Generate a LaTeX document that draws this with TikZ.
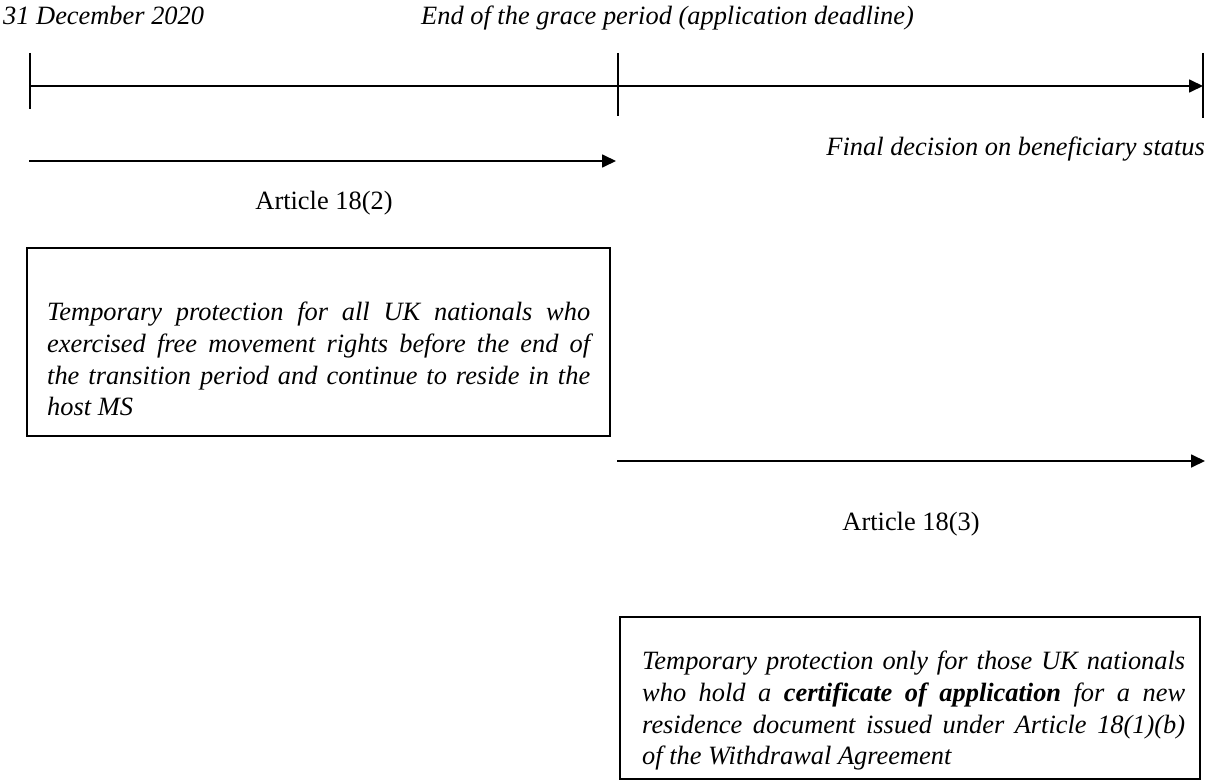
\documentclass[tikz,border=0pt]{standalone}
\usepackage{fontspec}
\setmainfont{Liberation Serif}
\usetikzlibrary{arrows.meta}
\begin{document}
\begin{tikzpicture}[x=1pt,y=-1pt,
  lbl/.style={inner sep=0pt,font=\fontsize{26.4}{31.7}\selectfont},
  ilbl/.style={lbl,font=\fontsize{26.4}{31.7}\selectfont\itshape},
  arr/.style={line width=1.7pt,-{Triangle[length=14pt,width=13pt]}},
  tick/.style={line width=1.7pt},
  frame/.style={draw,line width=1.4pt},
  boxtext/.style={inner sep=0pt,anchor=north west,text width=543pt,align=justify,font=\fontsize{26.4}{31.7}\selectfont\itshape}]
\useasboundingbox (0,0) rectangle (1207,781);
% timeline
\coordinate (t0) at (30,86);
\coordinate (t1) at (618,86);
\coordinate (t2) at (1203,86);
\coordinate (t0a) at (30,53);  \coordinate (t0b) at (30,109);
\coordinate (t1a) at (618,53); \coordinate (t1b) at (618,116);
\coordinate (t2a) at (1203,53); \coordinate (t2b) at (1203,118);
\draw[tick] (t0a) -- (t0b);
\draw[tick] (t1a) -- (t1b);
\draw[tick] (t2a) -- (t2b);
\draw[arr] (t0) -- (t2);
\node[ilbl,anchor=base west] (d1) at (3,25) {31 December 2020};
\node[ilbl,anchor=base west] (d2) at (421,25) {End of the grace period (application deadline)};
\node[ilbl,anchor=base east] (fd) at (1205,155) {Final decision on beneficiary status};
% Article 18(2)
\coordinate (a2s) at (29,161);
\coordinate (a2e) at (616,161);
\draw[arr] (a2s) -- (a2e);
\node[lbl,anchor=base] (l2) at (324,209) {Article 18(2)};
\draw[frame] (27,248) rectangle (610,436);
\node[boxtext] (b1) at (47,302) {Temporary protection for all UK nationals who\linebreak exercised free movement rights before the end of\linebreak the transition period and continue to reside in the\linebreak host MS};
% Article 18(3)
\coordinate (a3s) at (617,461);
\coordinate (a3e) at (1205,461);
\draw[arr] (a3s) -- (a3e);
\node[lbl,anchor=base] (l3) at (911,530) {Article 18(3)};
\draw[frame] (620,617) rectangle (1200,779);
\node[boxtext] (b2) at (642,651) {Temporary protection only for those UK nationals\linebreak who hold a \textbf{certificate of application} for a new\linebreak residence document issued under Article 18(1)(b)\linebreak of the Withdrawal Agreement};
\end{tikzpicture}
\end{document}
